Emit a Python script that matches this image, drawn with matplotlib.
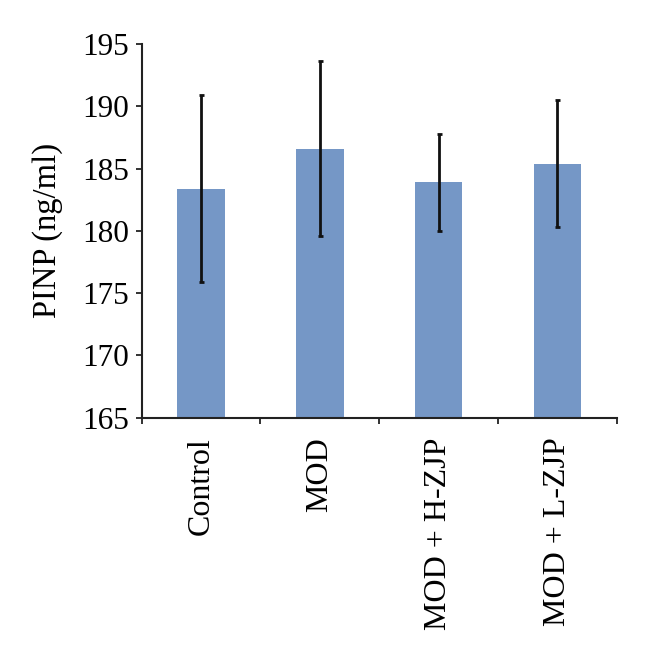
import matplotlib
matplotlib.use("Agg")
import matplotlib.pyplot as plt
import numpy as np

categories = ["Control", "MOD", "MOD + H-ZJP", "MOD + L-ZJP"]
means = [183.4, 186.6, 183.9, 185.4]
errors = [7.5, 7.0, 3.9, 5.1]
y_ticks = [165, 170, 175, 180, 185, 190, 195]

plt.rcParams['font.family'] = ['Liberation Serif', 'DejaVu Serif']

fig = plt.figure(figsize=(6.49, 6.60), dpi=100)
ax = fig.add_axes([0.2183, 0.3671, 0.9502 - 0.2183, 0.9333 - 0.3671])

x = np.arange(len(categories))
ax.bar(x, [m - 165 for m in means], bottom=165, width=0.4, color='#7597C6', zorder=2)
ax.errorbar(x, means, yerr=errors, fmt='none', ecolor='#111111', elinewidth=2.0,
            capsize=1.8, capthick=2.0, zorder=3)

ax.set_xlim(-0.5, 3.5)
ax.set_ylim(165, 195)
ax.set_yticks(y_ticks)
ax.set_yticklabels([str(t) for t in y_ticks], fontsize=22.5)
ax.set_xticks(x)
ax.set_xticklabels(categories, rotation=90, fontsize=23, va='top', ha='center')
ax.set_xticks(np.arange(-0.5, 4.0, 1.0), minor=True)
ax.tick_params(axis='x', which='major', length=0, pad=14)
ax.tick_params(axis='x', which='minor', length=4, width=1.3, direction='out', color='#222222')
ax.tick_params(axis='y', length=4, width=1.3, direction='out', pad=5, color='#222222')
ax.set_ylabel("PINP (ng/ml)", fontsize=23.5, labelpad=14)

for s in ['top', 'right']:
    ax.spines[s].set_visible(False)
for s in ['left', 'bottom']:
    ax.spines[s].set_linewidth(1.5)
    ax.spines[s].set_color('#222222')

fig.savefig("out.png", dpi=100)
